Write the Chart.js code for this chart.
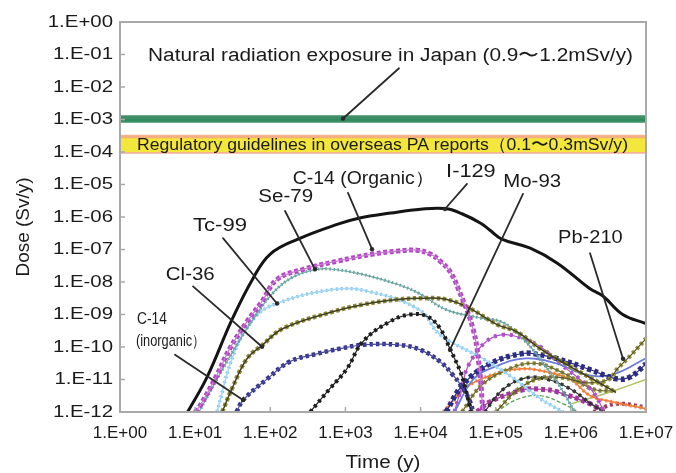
<!DOCTYPE html>
<html>
<head>
<meta charset="utf-8">
<script src="https://cdn.jsdelivr.net/npm/chart.js@4.4.1/dist/chart.umd.min.js"></script>
<style>
	html, body { margin: 0; padding: 0; background: #fff; }
</style>
</head>
<body>
<canvas id="doseChart" width="676" height="473"></canvas>
<script>
// axis ticks
var xTicks = [1, 1e1, 1e2, 1e3, 1e4, 1e5, 1e6, 1e7];
var xTickLabels = ['1.E+00', '1.E+01', '1.E+02', '1.E+03', '1.E+04', '1.E+05', '1.E+06', '1.E+07'];
var yTicks = [1, 1e-1, 1e-2, 1e-3, 1e-4, 1e-5, 1e-6, 1e-7, 1e-8, 1e-9, 1e-10, 1e-11, 1e-12];
var yTickLabels = ['1.E+00', '1.E-01', '1.E-02', '1.E-03', '1.E-04', '1.E-05', '1.E-06', '1.E-07', '1.E-08', '1.E-09', '1.E-10', '1.E-11', '1.E-12'];

// reference bands (Sv/y)
var bandSpan = [1, 1e7];
var naturalBand = [9e-4, 1.2e-3];
var regulatoryBand = [1e-4, 3e-4];

// curves, each point is [log10 time (y), log10 dose (Sv/y)]
var i129 = [[0.9, -12.0], [1.16, -10.92], [1.49, -9.16], [1.77, -7.89], [2.0, -7.14], [2.37, -6.68], [2.9, -6.22], [3.19, -6.03], [3.6, -5.88], [4.0, -5.76], [4.33, -5.74], [4.55, -5.9], [4.8, -6.19], [4.92, -6.4], [5.08, -6.68], [5.46, -6.96], [5.82, -7.42], [6.25, -8.2], [6.43, -8.44], [6.69, -9.0], [7.0, -9.28]];
var c14Org = [[1.0, -12.0], [1.07, -11.79], [1.29, -10.86], [1.46, -10.05], [1.69, -9.22], [1.89, -8.6], [2.09, -7.92], [2.44, -7.61], [2.89, -7.36], [3.37, -7.14], [3.69, -7.05], [3.95, -7.02], [4.13, -7.14], [4.26, -7.36], [4.39, -7.67], [4.5, -8.2], [4.7, -9.46], [4.78, -10.6], [4.83, -12.0]];
var se79 = [[1.05, -12.0], [1.3, -10.95], [1.55, -9.95], [1.8, -9.05], [2.05, -8.3], [2.3, -7.85], [2.6, -7.62], [2.8, -7.6], [3.2, -7.75], [3.69, -8.07], [3.98, -8.35], [4.34, -8.85], [4.78, -9.1], [5.1, -9.25], [5.4, -9.84], [5.6, -10.4], [5.85, -11.2], [6.05, -12.0]];
var tc99 = [[1.29, -12.0], [1.51, -10.24], [1.78, -9.12], [2.09, -8.66], [2.84, -8.23], [3.31, -8.29], [3.98, -8.85], [4.26, -9.62], [4.83, -10.36], [5.2, -10.9], [5.6, -11.6], [5.9, -12.0]];
var cl36 = [[1.36, -12.0], [1.5, -11.23], [1.69, -10.36], [1.9, -9.93], [2.17, -9.43], [2.84, -8.91], [3.24, -8.69], [3.69, -8.54], [3.99, -8.5], [4.35, -8.54], [4.66, -8.82], [5.02, -9.31], [5.28, -9.53], [5.59, -10.05], [5.95, -10.55], [6.3, -11.0], [6.6, -11.4]];
var c14Inorg = [[1.55, -12.0], [1.64, -11.63], [1.96, -10.98], [2.26, -10.45], [2.62, -10.21], [2.93, -10.05], [3.24, -9.93], [3.69, -9.93], [3.99, -10.08], [4.26, -10.45], [4.43, -10.86], [4.57, -11.29], [4.66, -11.69], [4.7, -12.0]];
var mo93 = [[2.53, -12.0], [2.79, -11.29], [3.02, -10.67], [3.23, -9.84], [3.59, -9.22], [3.86, -9.0], [4.09, -9.06], [4.26, -9.43], [4.39, -10.05], [4.53, -10.76], [4.6, -11.3], [4.67, -12.0]];
var pb210 = [[5.0, -12.0], [5.3, -11.3], [5.6, -10.95], [5.9, -10.95], [6.2, -11.1], [6.5, -11.0], [6.62, -10.67], [6.8, -10.25], [7.0, -9.74]];
// unlabelled curves in the lower right bundle
var navyDots = [[4.34, -12.0], [4.56, -11.17], [4.92, -10.52], [5.36, -10.2], [5.59, -10.24], [5.82, -10.36], [6.26, -10.7], [6.61, -10.98], [6.79, -10.92], [7.0, -10.52]];
var blueLine = [[4.45, -12.0], [4.7, -11.0], [5.0, -10.6], [5.4, -10.35], [5.8, -10.5], [6.2, -10.85], [6.55, -10.85], [7.0, -10.35]];
var orangeLine = [[4.3, -12.0], [4.65, -11.17], [5.1, -10.76], [5.36, -10.67], [5.54, -10.7], [5.98, -10.98], [6.26, -11.5], [6.56, -11.69], [7.0, -11.9]];
var thinMagenta = [[4.45, -12.0], [4.55, -11.2], [4.64, -10.55], [4.87, -9.84], [5.1, -9.62], [5.36, -9.74], [5.6, -10.0], [5.82, -10.45], [6.26, -11.29], [6.45, -12.0]];
var lowMagenta = [[4.75, -12.0], [4.92, -11.69], [5.36, -11.32], [5.6, -11.3], [5.82, -11.38], [6.26, -11.75], [6.45, -12.0]];
var oliveLow = [[4.55, -12.0], [4.8, -11.2], [5.1, -10.75], [5.5, -10.5], [5.9, -10.8], [6.3, -11.3], [6.6, -11.35]];
var darkTri = [[4.85, -12.0], [5.1, -11.3], [5.4, -10.95], [5.7, -11.0], [6.0, -11.3], [6.3, -11.8], [6.45, -12.0]];
var greenDash = [[5.0, -12.0], [5.3, -11.6], [5.6, -11.5], [5.9, -11.75], [6.1, -12.0]];
var yellowGreen = [[6.0, -11.75], [6.5, -11.4], [7.0, -11.0]];
var darkRed = [[6.3, -12.0], [6.6, -11.75], [7.0, -11.85]];

// annotations: text, then [log t left, log t right, log dose centre, font px]
var labelTexts = ['Natural radiation exposure in Japan (0.9\u301C1.2mSv/y)', 'Regulatory guidelines in overseas PA reports\uFF080.1\u301C0.3mSv/y)', 'C-14 (Organic\uFF09', 'I-129', 'Mo-93', 'Se-79', 'Tc-99', 'Cl-36', 'C-14', '(inorganic\uFF09', 'Pb-210'];
var labelPos = [[0.373, 6.827, -1.06, 18], [0.226, 6.761, -3.80, 17], [2.30, 4.18, -4.83, 18], [4.34, 5.0, -4.62, 18], [5.10, 5.87, -4.93, 18], [1.84, 2.57, -5.40, 18], [0.97, 1.69, -6.28, 18], [0.61, 1.26, -7.78, 18], [0.226, 0.625, -9.14, 17], [0.213, 1.13, -9.84, 16], [5.83, 6.69, -6.65, 18]];
// leader lines: [log t from, log dose from, log t to, log dose to]
var arrowLines = [[3.713, -1.423, 2.968, -2.969], [2.196, -5.815, 2.595, -7.609], [1.371, -6.650, 2.089, -8.661], [0.972, -8.135, 1.890, -9.991], [0.732, -10.238, 1.637, -11.630], [3.034, -5.258, 3.354, -6.990], [4.618, -4.980, 4.325, -5.753], [5.363, -5.289, 4.392, -10.083], [6.255, -7.114, 6.694, -10.362]];

var FONT = '"Liberation Sans", Arial, Helvetica, sans-serif';

function pts(pairs) {
	return pairs.map(function(p) {
		return { x: Math.pow(10, p[0]), y: Math.pow(10, p[1]) };
	});
}

function curve(pairs, color, width, dash) {
	return {
		data: pts(pairs),
		borderColor: color,
		backgroundColor: color,
		borderWidth: width,
		borderDash: dash || [],
		fill: false,
		pointRadius: 0,
		tension: 0.4,
		clip: 0
	};
}

function bandLine(v, edge, fillCol) {
	return {
		data: [{ x: bandSpan[0], y: v }, { x: bandSpan[1], y: v }],
		borderColor: edge,
		backgroundColor: fillCol || 'transparent',
		borderWidth: 3.5,
		fill: fillCol ? '+1' : false,
		pointRadius: 0,
		clip: 0
	};
}

// first dataset is drawn on top
var datasets = [
	curve(i129, '#141414', 3),
	curve(c14Org, '#c67ad4', 1.2),
	curve(c14Org, '#b246c2', 5, [4, 2.5]),
	curve(mo93, '#1e1e1e', 1.2),
	curve(mo93, '#1e1e1e', 4, [3, 3.5]),
	curve(c14Inorg, '#4a4a9a', 1.2),
	curve(c14Inorg, '#34348c', 4.5, [3.5, 3]),
	curve(cl36, '#3e3e22', 1.5),
	curve(cl36, '#8f8a34', 4.5, [3.5, 2.5]),
	curve(se79, '#6fa8a8', 1.2),
	curve(se79, '#5f9c9c', 3, [1.5, 2.5]),
	curve(tc99, '#a4d8f4', 1.5),
	curve(tc99, '#7cc4ee', 3.5, [2, 3]),
	curve(pb210, '#55552a', 1.2),
	curve(pb210, '#9a9638', 4.5, [3, 3]),
	curve(navyDots, '#2c2c80', 1.2),
	curve(navyDots, '#2c2c80', 5.5, [4, 3]),
	curve(blueLine, '#6a7ad8', 1.8),
	curve(thinMagenta, '#b050c8', 1.2),
	curve(thinMagenta, '#b050c8', 4, [3, 5]),
	curve(oliveLow, '#6b6a30', 1.2),
	curve(oliveLow, '#8a8634', 4, [3, 3]),
	curve(darkTri, '#333333', 1.2),
	curve(darkTri, '#333333', 3.5, [3, 4]),
	curve(orangeLine, '#f07a3a', 1.5),
	curve(orangeLine, '#f39050', 3.5, [2, 3]),
	curve(lowMagenta, '#a0389a', 1.2),
	curve(lowMagenta, '#a0389a', 5, [4, 3]),
	curve(greenDash, '#50a050', 1.2, [4, 2]),
	curve(yellowGreen, '#b0c060', 1.5),
	curve(darkRed, '#9a3a5a', 4, [3, 3]),
	bandLine(naturalBand[1], '#3f9068', '#2f8a5e'),
	bandLine(naturalBand[0], '#3f9068'),
	bandLine(regulatoryBand[1], 'rgba(244,168,132,0.9)', '#f3e63c'),
	bandLine(regulatoryBand[0], 'rgba(244,168,132,0.9)')
];

function drawText(ctx, text, x, y, size, sx, align) {
	ctx.save();
	ctx.font = size + 'px ' + FONT;
	ctx.textAlign = align;
	ctx.textBaseline = 'middle';
	ctx.fillStyle = '#1a1a1a';
	ctx.translate(x, y);
	ctx.scale(sx, 1);
	ctx.fillText(text, 0, 0);
	ctx.restore();
}

// squeeze or stretch a string to the width it has in the figure
function fitText(ctx, text, x0, x1, y, size, align) {
	ctx.save();
	ctx.font = size + 'px ' + FONT;
	var w = ctx.measureText(text).width;
	ctx.restore();
	var x = align === 'center' ? (x0 + x1) / 2 : x0;
	drawText(ctx, text, x, y, size, (x1 - x0) / w, align || 'left');
}

var decor = {
	id: 'decor',
	afterDatasetsDraw: function(chart) {
		var ctx = chart.ctx;
		var xs = chart.scales.x;
		var ys = chart.scales.y;
		var px = function(l) { return xs.getPixelForValue(Math.pow(10, l)); };
		var py = function(l) { return ys.getPixelForValue(Math.pow(10, l)); };

		ctx.save();
		ctx.strokeStyle = '#2a2a2a';
		ctx.fillStyle = '#2a2a2a';
		ctx.lineWidth = 1.8;
		ctx.lineCap = 'round';
		arrowLines.forEach(function(a) {
			var x1 = px(a[2]), y1 = py(a[3]);
			ctx.beginPath();
			ctx.moveTo(px(a[0]), py(a[1]));
			ctx.lineTo(x1, y1);
			ctx.stroke();
			ctx.beginPath();
			ctx.arc(x1, y1, 2.2, 0, 2 * Math.PI);
			ctx.fill();
		});
		ctx.restore();

		labelTexts.forEach(function(t, i) {
			var p = labelPos[i];
			fitText(ctx, t, px(p[0]), px(p[1]), py(p[2]), p[3]);
		});
	},
	afterDraw: function(chart) {
		var ctx = chart.ctx;
		var a = chart.chartArea;
		var xs = chart.scales.x;
		var ys = chart.scales.y;

		ctx.save();
		ctx.strokeStyle = '#a9a9a9';
		ctx.lineWidth = 1.5;
		yTicks.forEach(function(v) {
			var y = ys.getPixelForValue(v);
			ctx.beginPath();
			ctx.moveTo(a.left, y);
			ctx.lineTo(a.left + 5, y);
			ctx.stroke();
		});
		xTicks.forEach(function(v) {
			var x = xs.getPixelForValue(v);
			ctx.beginPath();
			ctx.moveTo(x, a.bottom);
			ctx.lineTo(x, a.bottom - 5);
			ctx.stroke();
		});
		ctx.lineWidth = 2;
		ctx.strokeRect(a.left, a.top, a.right - a.left, a.bottom - a.top);
		ctx.restore();

		yTicks.forEach(function(v, i) {
			drawText(ctx, yTickLabels[i], a.left - 7, ys.getPixelForValue(v), 17, 1.2, 'right');
		});
		xTicks.forEach(function(v, i) {
			drawText(ctx, xTickLabels[i], xs.getPixelForValue(v), a.bottom + 21, 17, 1.0, 'center');
		});

		var cx = (a.left + a.right) / 2;
		fitText(ctx, 'Time (y)', cx - 37.5, cx + 37.5, a.bottom + 51, 18, 'center');

		ctx.save();
		ctx.translate(24, (a.top + a.bottom) / 2 + 10);
		ctx.rotate(-Math.PI / 2);
		fitText(ctx, 'Dose (Sv/y)', -49.5, 49.5, 0, 18, 'center');
		ctx.restore();
	}
};

var ctx = document.getElementById('doseChart').getContext('2d');
var doseChart = new Chart(ctx, {
	type: 'line',
	data: { datasets: datasets },
	plugins: [decor],
	options: {
		responsive: false,
		animation: false,
		devicePixelRatio: 1,
		layout: { padding: { left: 0, top: 22, right: 30, bottom: 0 } },
		scales: {
			x: {
				type: 'logarithmic',
				min: 1,
				max: 1e7,
				afterBuildTicks: function(s) {
					s.ticks = xTicks.map(function(v) { return { value: v }; });
				},
				afterFit: function(s) { s.height = 61; },
				ticks: { display: false },
				grid: { display: false },
				border: { display: false }
			},
			y: {
				type: 'logarithmic',
				min: 1e-12,
				max: 1,
				afterBuildTicks: function(s) {
					s.ticks = yTicks.map(function(v) { return { value: v }; });
				},
				afterFit: function(s) { s.width = 120; },
				ticks: { display: false },
				grid: { display: false },
				border: { display: false }
			}
		},
		plugins: {
			legend: { display: false },
			tooltip: { enabled: false }
		}
	}
});
</script>
</body>
</html>
